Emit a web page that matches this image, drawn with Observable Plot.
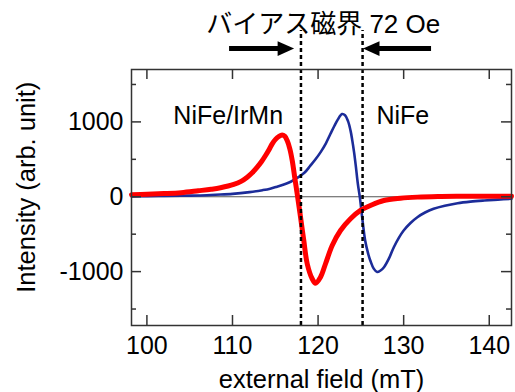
<!DOCTYPE html>
<html><head><meta charset="utf-8">
<script src="https://cdn.jsdelivr.net/npm/d3@7"></script>
<script src="https://cdn.jsdelivr.net/npm/@observablehq/plot@0.6"></script>
<style>body{margin:0;background:#fff}</style>
</head><body><div id="chart"></div>
<script>
// NiFe/IrMn (red) FMR derivative spectrum
const redX = [98.2, 100, 102, 104, 106, 107.5, 108.6, 110.15, 111, 111.72, 112.3, 112.89, 113.4, 113.86, 114.3, 114.64, 115.05, 115.41, 115.8, 116.1, 116.39, 116.7, 116.98, 117.3, 117.56, 117.95, 118.33, 118.73, 119.31, 119.7, 120.28, 120.87, 121.65, 122.62, 123.79, 124.95, 126.12, 127.68, 129.63, 131.6, 134, 137, 140, 142.6];
const redY = [28, 33, 42, 55, 80, 100, 120, 164, 205, 261, 320, 395, 470, 551, 635, 707, 770, 805, 825, 810, 751, 640, 484, 235, 40, -273, -584, -895, -1096, -1154, -1075, -895, -651, -451, -294, -183, -117, -50, -20, -5, 3, 6, 8, 8];
// NiFe (blue)
const blueX = [98.2, 100, 102, 104, 106, 108, 110, 112, 113.5, 114.4, 115.2, 116, 116.8, 117.6, 118.4, 119.1, 119.7, 120.3, 120.9, 121.45, 121.9, 122.3, 122.8, 123.15, 123.5, 123.8, 124.0, 124.2, 124.4, 124.65, 124.88, 125.15, 125.5, 125.85, 126.1, 126.5, 126.9, 127.3, 127.7, 128.3, 128.85, 129.4, 130.0, 130.8, 131.6, 132.5, 133.5, 134.8, 136.3, 137.8, 139.4, 141, 142.6];
const blueY = [5, 8, 11, 14, 17, 27, 38, 62, 88, 108, 135, 165, 200, 255, 320, 415, 500, 596, 710, 841, 945, 1030, 1105, 1090, 1010, 880, 750, 600, 420, 170, -6, -273, -584, -760, -852, -960, -1005, -985, -941, -820, -674, -555, -451, -350, -273, -210, -161, -120, -86, -65, -50, -38, -27];

const xDomain = [98.2, 142.6];
const yDomain = [-1720, 1700];
const xTicks = [100, 110, 120, 130, 140];
const yMajor = [-1000, 0, 1000];
const yMinor = [-1500, -500, 500, 1500];

// annotations
const guideX = [118.0, 125.2];
const guideTop = 2220;
const arrowY = 1980;
const arrowTail = [109.6, 133.2];
const arrowTip = [117.2, 125.25];
const labelText = ["NiFe/IrMn", "NiFe"];
const labelX = [109.5, 129.9];
const labelY = 978;
const titleText = "バイアス磁界 72 Oe";
const titleX = 120.6;
const titleY = 2181;
const xLabel = "external field (mT)";
const yLabel = "Intensity (arb. unit)";
const yLabelX = 86.9;
const yLabelY = 127;

const W = 515, H = 392, mL = 131, mR = 4, mT = 69, mB = 67;
const fW = W - mL - mR, fH = H - mT - mB;

const red = redX.map((x, i) => ({x, y: redY[i]}));
const blue = blueX.map((x, i) => ({x, y: blueY[i]}));

const head = {
  draw(ctx, size) {
    const k = Math.sqrt(size / Math.PI) / 8;
    ctx.moveTo(0, 0);
    ctx.lineTo(-16.5 * k, -7.4 * k);
    ctx.lineTo(-16.5 * k, 7.4 * k);
    ctx.closePath();
  }
};

const axisColor = "#333";
const chart = Plot.plot({
  width: W, height: H,
  marginLeft: mL, marginRight: mR, marginTop: mT, marginBottom: mB,
  x: {domain: xDomain},
  y: {domain: yDomain},
  style: {fontFamily: '"Liberation Sans", Arial, "Noto Sans CJK JP", sans-serif', fontSize: "25px", color: "#000", background: "#fff"},
  marks: [
    Plot.ruleY([0], {stroke: "#555", strokeWidth: 1.2}),
    Plot.line(blue, {x: "x", y: "y", stroke: "#1c2c99", strokeWidth: 2.6, curve: "catmull-rom"}),
    Plot.line(red, {x: "x", y: "y", stroke: "#ff0000", strokeWidth: 5, curve: "catmull-rom"}),
    Plot.ruleX(guideX, {y1: yDomain[0], y2: guideTop, stroke: "#000", strokeWidth: 2.5, strokeDasharray: "4,3"}),
    Plot.frame({stroke: axisColor, strokeWidth: 1.5}),
    Plot.ruleX(xTicks, {insetTop: fH - 10, stroke: axisColor, strokeWidth: 1.5}),
    Plot.ruleX(xTicks, {insetBottom: fH - 10, stroke: axisColor, strokeWidth: 1.5}),
    Plot.ruleY(yMajor, {insetRight: fW - 10, stroke: axisColor, strokeWidth: 1.5}),
    Plot.ruleY(yMinor, {insetRight: fW - 5, stroke: axisColor, strokeWidth: 1.5}),
    Plot.ruleY(yMajor, {insetLeft: fW - 10, stroke: axisColor, strokeWidth: 1.5}),
    Plot.ruleY(yMinor, {insetLeft: fW - 5, stroke: axisColor, strokeWidth: 1.5}),
    Plot.axisX({ticks: xTicks, tickSize: 0, tickPadding: 11, label: null, fontSize: 25, tickFormat: d => `${d}`}),
    Plot.axisY({ticks: yMajor, tickSize: 0, tickPadding: 8, label: null, fontSize: 25, tickFormat: d => `${d}`}),
    Plot.text([xLabel], {frameAnchor: "bottom", dy: 62, lineAnchor: "bottom", fontSize: 25.5}),
    Plot.text([yLabel], {x: yLabelX, y: yLabelY, rotate: -90, lineAnchor: "bottom", fontSize: 25.5}),
    Plot.text(labelText, {x: (d, i) => labelX[i], y: labelY, lineAnchor: "bottom", fontSize: 25}),
    Plot.text([titleText], {x: titleX, y: titleY, lineAnchor: "bottom", fontSize: 26}),
    Plot.link([0], {x1: arrowTail[0], x2: arrowTip[0] - 1.5, y1: arrowY, y2: arrowY, stroke: "#000", strokeWidth: 5}),
    Plot.link([0], {x1: arrowTail[1], x2: arrowTip[1] + 1.5, y1: arrowY, y2: arrowY, stroke: "#000", strokeWidth: 5}),
    Plot.dot([0], {x: arrowTip[0], y: arrowY, symbol: head, r: 8, fill: "#000", stroke: null}),
    Plot.dot([0], {x: arrowTip[1], y: arrowY, symbol: head, r: 8, fill: "#000", stroke: null, rotate: 180})
  ]
});
document.getElementById("chart").append(chart);
</script>
</body></html>
